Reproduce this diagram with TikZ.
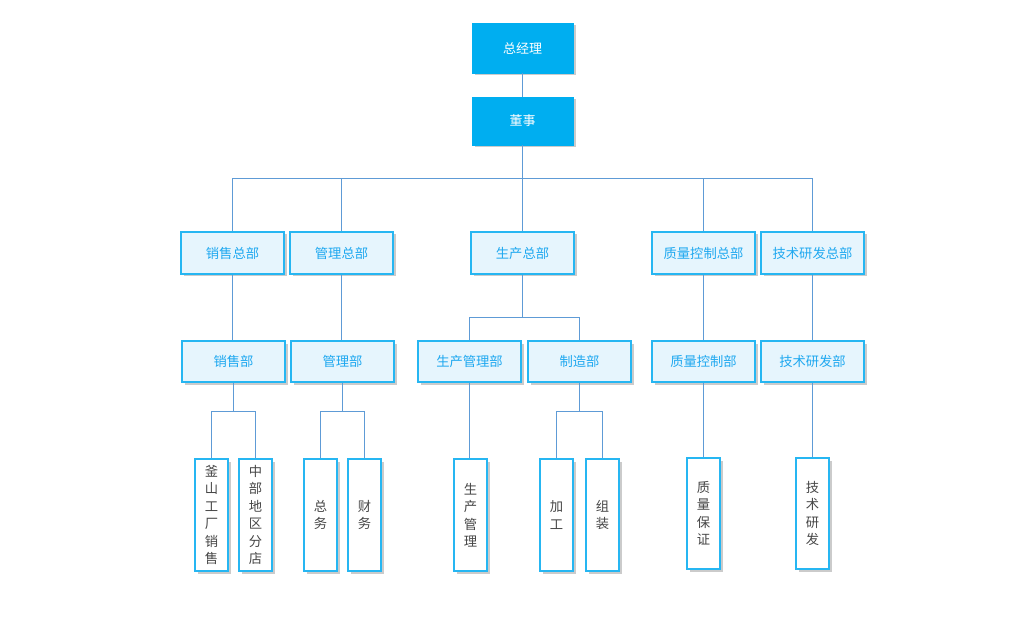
\documentclass[tikz,border=0pt]{standalone}
\usepackage{fontspec}
\setmainfont{Noto Sans CJK SC}
\usetikzlibrary{shadows}
\definecolor{topfill}{RGB}{0,174,240}
\definecolor{midfill}{RGB}{230,245,253}
\definecolor{midedge}{RGB}{38,182,242}
\definecolor{midtext}{RGB}{30,168,240}
\definecolor{leaftext}{RGB}{70,70,70}
\definecolor{conncol}{RGB}{94,155,214}
\tikzset{
  x=1pt,y=-1pt,
  boxshadow/.style={drop shadow={shadow xshift=2.5pt,shadow yshift=-2.5pt,fill=black!40,opacity=0.5}},
  topbox/.style={boxshadow,fill=topfill,draw=topfill,minimum width=101pt,text=white,font=\fontsize{13}{15}\selectfont,inner sep=0pt},
  midbox/.style={boxshadow,fill=midfill,draw=midedge,line width=1.4pt,minimum width=103pt,minimum height=42pt,text=midtext,font=\fontsize{13.3}{15}\selectfont,inner sep=0pt},
  leafbox/.style={boxshadow,fill=white,draw=midedge,line width=1.4pt,minimum width=33pt,text=leaftext,font=\fontsize{13.3}{17.5}\selectfont,align=center,inner sep=0pt},
  conn/.style={draw=conncol,line width=1.3pt}
}
\begin{document}
\begin{tikzpicture}
\useasboundingbox[fill=white] (0,0) rectangle (1024,617);
% top
\node[topbox,minimum height=50pt] (gm) at (522.5,48) {总经理};
\node[topbox,minimum height=48pt] (ds) at (522.5,121) {董事};
% level 2
\node[midbox] (a2) at (232.5,253) {销售总部};
\node[midbox] (b2) at (341.5,253) {管理总部};
\node[midbox] (c2) at (522.5,253) {生产总部};
\node[midbox] (d2) at (703.5,253) {质量控制总部};
\node[midbox] (e2) at (812.5,253) {技术研发总部};
% level 3
\node[midbox,minimum height=41pt] (a3) at (233.5,361.5) {销售部};
\node[midbox,minimum height=41pt] (b3) at (342.5,361.5) {管理部};
\node[midbox,minimum height=41pt] (c3) at (469.5,361.5) {生产管理部};
\node[midbox,minimum height=41pt] (f3) at (579.5,361.5) {制造部};
\node[midbox,minimum height=41pt] (d3) at (703.5,361.5) {质量控制部};
\node[midbox,minimum height=41pt] (e3) at (812.5,361.5) {技术研发部};
% level 4
\node[leafbox,minimum height=112pt] (a4) at (211.5,515) {釜\\山\\工\\厂\\销\\售};
\node[leafbox,minimum height=112pt] (b4) at (255.5,515) {中\\部\\地\\区\\分\\店};
\node[leafbox,minimum height=112pt] (c4) at (320.5,515) {总\\务};
\node[leafbox,minimum height=112pt] (d4) at (364.5,515) {财\\务};
\node[leafbox,minimum height=112pt] (e4) at (470.5,515) {生\\产\\管\\理};
\node[leafbox,minimum height=112pt] (f4) at (556.5,515) {加\\工};
\node[leafbox,minimum height=112pt] (g4) at (602.5,515) {组\\装};
\node[leafbox,minimum height=111pt] (h4) at (703.5,513.5) {质\\量\\保\\证};
\node[leafbox,minimum height=111pt] (i4) at (812.5,513.5) {技\\术\\研\\发};
% connectors
\draw[conn] (gm.south) -- (ds.north);
\draw[conn] (ds.south) -- (522.5,178.5) coordinate (bus);
\draw[conn] (bus) -| (a2.north);
\draw[conn] (bus) -| (b2.north);
\draw[conn] (bus) -- (c2.north);
\draw[conn] (bus) -| (d2.north);
\draw[conn] (bus) -| (e2.north);
\draw[conn] (a2.south) -- (a2.south |- a3.north);
\draw[conn] (b2.south) -- (b2.south |- b3.north);
\draw[conn] (d2.south) -- (d3.north);
\draw[conn] (e2.south) -- (e3.north);
\draw[conn] (c2.south) -- ++(0,42.5) coordinate (cb);
\draw[conn] (cb) -| (c3.north);
\draw[conn] (cb) -| (f3.north);
\draw[conn] (a3.south) -- ++(0,28.5) coordinate (ab);
\draw[conn] (ab) -| (a4.north);
\draw[conn] (ab) -| (b4.north);
\draw[conn] (b3.south) -- ++(0,28.5) coordinate (bb);
\draw[conn] (bb) -| (c4.north);
\draw[conn] (bb) -| (d4.north);
\draw[conn] (c3.south) -- (c3.south |- e4.north);
\draw[conn] (f3.south) -- ++(0,28.5) coordinate (fb);
\draw[conn] (fb) -| (f4.north);
\draw[conn] (fb) -| (g4.north);
\draw[conn] (d3.south) -- (d3.south |- h4.north);
\draw[conn] (e3.south) -- (e3.south |- i4.north);
\end{tikzpicture}
\end{document}
